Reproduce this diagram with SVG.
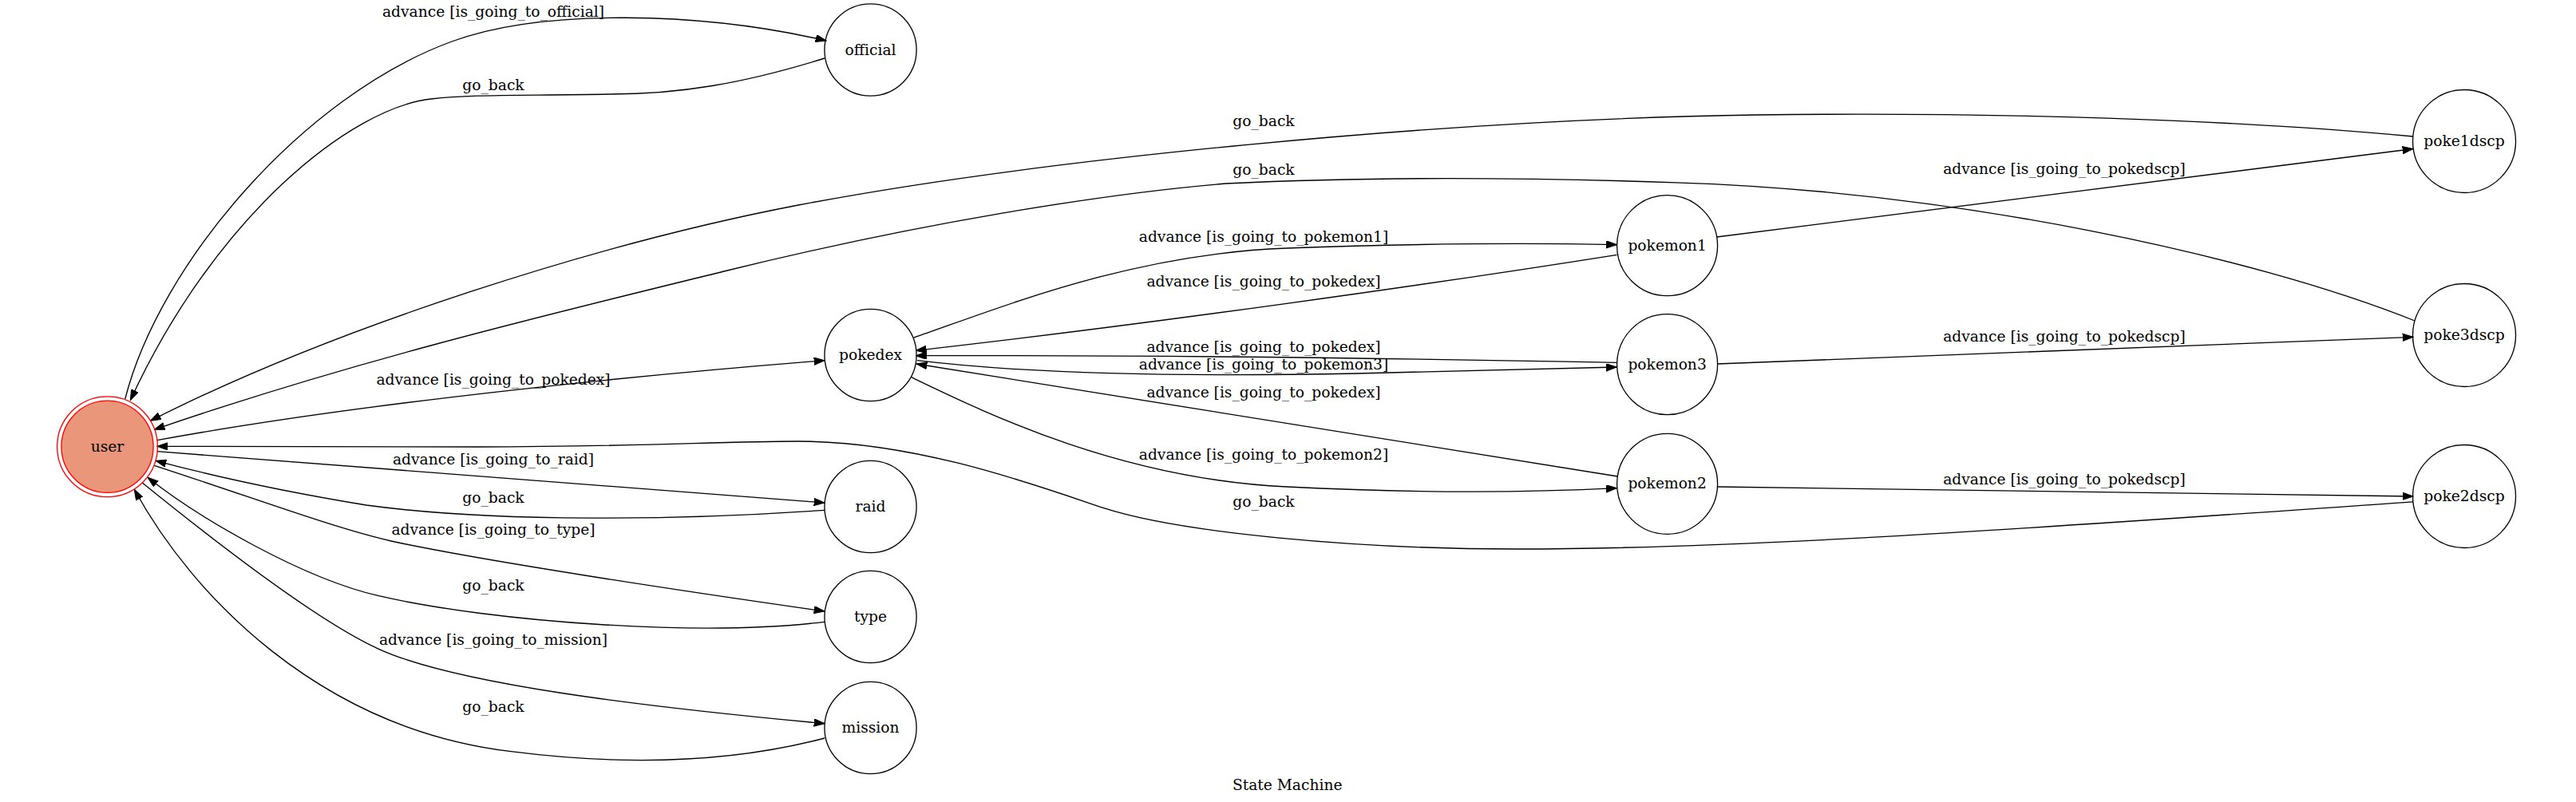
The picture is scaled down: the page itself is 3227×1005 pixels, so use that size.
<svg xmlns="http://www.w3.org/2000/svg" width="3227" height="1005" viewBox="0 0 3227 1005">
<style>
text{font-family:"DejaVu Serif","Liberation Serif",serif;font-size:18.67px;fill:#000;text-anchor:middle}
.n{fill:none;stroke:#000;stroke-width:1.33}
.e path{fill:none;stroke:#000;stroke-width:1.33;marker-end:url(#ah)}
</style>
<defs>
<marker id="ah" markerWidth="14" markerHeight="10" refX="13.33" refY="4.67" orient="auto" markerUnits="userSpaceOnUse"><path d="M0,0 L13.33,4.67 L0,9.33 z" fill="#000" stroke="#000" stroke-width="1"/></marker>
</defs>
<rect x="0" y="0" width="3227" height="1005" fill="#fff"/>
<g id="edges" class="e">
<path d="M156.7,500 C200,330 380,120 566,52 C680,10 880,15 1035,51"/>
<path d="M1033,73 C930,105 850,118 765,118 C650,120 590,118 540,124 C440,135 270,270 163.3,501.7"/>
<path d="M196.7,551.7 C450,505 800,470 1033,451.7"/>
<path d="M1145,423 C1260,383 1420,318 1612,311 C1750,306 1900,304 2025.5,306.7"/>
<path d="M2025.5,319.3 C1800,355 1450,405 1147.3,439.3"/>
<path d="M2025.5,454.3 C1700,448 1400,445 1147.3,445.7"/>
<path d="M1141.7,472.7 C1230,515 1400,600 1612,610 C1750,617 1900,618 2025.5,611.7"/>
<path d="M2026.5,597 L1148,456"/>
<path d="M1149,451.7 C1300,470 1500,472 1700,468 C1850,465 1950,462 2025.5,460"/>
<path d="M2150.5,297 L3023,186.5"/>
<path d="M2151.5,456 L3023,422.3"/>
<path d="M2151.5,610 L3023,622"/>
<path d="M3023,171 C2800,150 2500,140 2200,144 C1800,150 1300,200 1000,257 C750,305 420,410 188.3,527.3"/>
<path d="M3025,402 C2820,320 2450,240 2100,228.8 C1900,222 1700,222 1535.7,230 C1380,243 1150,280 906.9,340 C700,391 450,450 193.3,538.3"/>
<path d="M3023,628.8 C2600,658 2200,688 1900,688 C1700,688 1480,668 1382.7,636.7 C1300,609 1150,553 1000,553 C900,553 800,560 600,560 L196.7,559.3"/>
<path d="M196.7,565.7 L1033,630"/>
<path d="M1033,639.3 C850,652 620,655 459,633 C380,620 280,600 195,577.3"/>
<path d="M193.3,583.3 C330,628 420,662 490,678 C600,702 850,740 1033,766"/>
<path d="M1033,779.3 C880,798 620,780 474.5,746.7 C380,725 250,650 185,598.3"/>
<path d="M178.3,605 C240,655 390,775 474.5,813.3 C570,857 800,885 1033,906.7"/>
<path d="M1033,925 C900,960 760,957 640,941.7 C400,913 240,745 168.3,613.3"/>
</g>
<g id="edge-labels">
<text x="618" y="20.7">advance [is_going_to_official]</text>
<text x="618" y="112.7">go_back</text>
<text x="618" y="481.7">advance [is_going_to_pokedex]</text>
<text x="618" y="581.7">advance [is_going_to_raid]</text>
<text x="618" y="630">go_back</text>
<text x="618" y="670">advance [is_going_to_type]</text>
<text x="618" y="740">go_back</text>
<text x="618" y="807.5">advance [is_going_to_mission]</text>
<text x="618" y="891.7">go_back</text>
<text x="1583" y="158.3">go_back</text>
<text x="1583" y="219.3">go_back</text>
<text x="1583" y="302.7">advance [is_going_to_pokemon1]</text>
<text x="1583" y="359.3">advance [is_going_to_pokedex]</text>
<text x="1583" y="441">advance [is_going_to_pokedex]</text>
<text x="1583" y="463.3">advance [is_going_to_pokemon3]</text>
<text x="1583" y="497.7">advance [is_going_to_pokedex]</text>
<text x="1583" y="576">advance [is_going_to_pokemon2]</text>
<text x="1583" y="635">go_back</text>
<text x="2586" y="218">advance [is_going_to_pokedscp]</text>
<text x="2586" y="428">advance [is_going_to_pokedscp]</text>
<text x="2586" y="607">advance [is_going_to_pokedscp]</text>
</g>
<g id="user">
<circle cx="134.5" cy="559.7" r="57.6" fill="#e9967a" stroke="#ff0000" stroke-width="1.33"/>
<circle cx="134.5" cy="559.7" r="62.9" fill="none" stroke="#ff0000" stroke-width="1.33"/>
<text x="134.5" y="565.7">user</text>
</g>
<g id="official"><circle class="n" cx="1090.5" cy="62.5" r="57.6"/><text x="1090.5" y="68.5">official</text></g>
<g id="pokedex"><circle class="n" cx="1090.5" cy="445" r="57.6"/><text x="1090.5" y="451">pokedex</text></g>
<g id="raid"><circle class="n" cx="1090.5" cy="635" r="57.6"/><text x="1090.5" y="641">raid</text></g>
<g id="type"><circle class="n" cx="1090.5" cy="773" r="57.6"/><text x="1090.5" y="779">type</text></g>
<g id="mission"><circle class="n" cx="1090.5" cy="912" r="57.6"/><text x="1090.5" y="918">mission</text></g>
<g id="pokemon1"><circle class="n" cx="2088.6" cy="307.7" r="63"/><text x="2088.6" y="313.7">pokemon1</text></g>
<g id="pokemon3"><circle class="n" cx="2088.6" cy="456.7" r="63"/><text x="2088.6" y="462.7">pokemon3</text></g>
<g id="pokemon2"><circle class="n" cx="2088.6" cy="606.3" r="63"/><text x="2088.6" y="612.3">pokemon2</text></g>
<g id="poke1dscp"><circle class="n" cx="3087" cy="177" r="64.5"/><text x="3087" y="183">poke1dscp</text></g>
<g id="poke3dscp"><circle class="n" cx="3087" cy="420" r="64.5"/><text x="3087" y="426">poke3dscp</text></g>
<g id="poke2dscp"><circle class="n" cx="3087" cy="622" r="64.5"/><text x="3087" y="628">poke2dscp</text></g>
<text x="1612.7" y="990">State Machine</text>
</svg>
